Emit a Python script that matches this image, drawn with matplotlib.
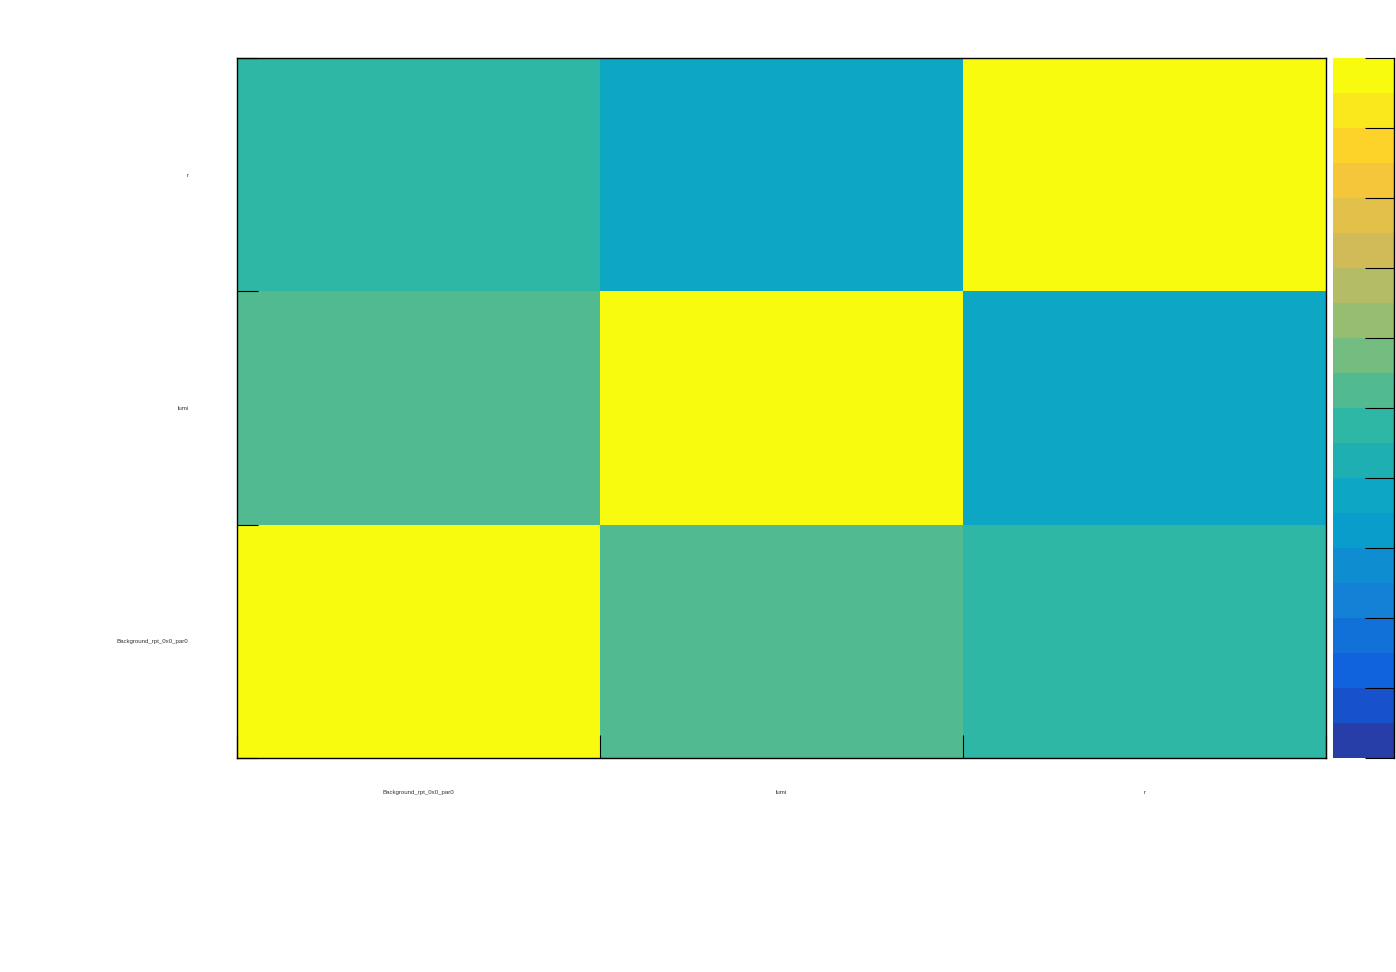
import matplotlib
matplotlib.use("Agg")
import matplotlib.pyplot as plt
import numpy as np
from matplotlib.colors import LinearSegmentedColormap, ListedColormap, BoundaryNorm

# parameter names (bottom to top on y, left to right on x)
params = ["Background_rpt_0x0_par0", "lumi", "r"]

# correlation matrix, rows/cols in the order of params
corr = np.array([
    [1.00, 0.05, -0.05],
    [0.05, 1.00, -0.25],
    [-0.05, -0.25, 1.00],
])

# ROOT kBird palette, 20 contour levels from -1 to 1
bird_stops = [0.0, 0.125, 0.25, 0.375, 0.5, 0.625, 0.75, 0.875, 1.0]
bird_r = [0.2082, 0.0592, 0.0780, 0.0232, 0.1802, 0.5301, 0.8186, 0.9956, 0.9764]
bird_g = [0.1664, 0.3599, 0.5041, 0.6419, 0.7178, 0.7492, 0.7328, 0.7862, 0.9832]
bird_b = [0.5293, 0.8684, 0.8385, 0.7914, 0.6425, 0.4662, 0.3499, 0.1968, 0.0539]
n_levels = 20

bird = LinearSegmentedColormap.from_list(
    "bird", list(zip(bird_stops, zip(bird_r, bird_g, bird_b))), N=255)
# same color pick as THistPainter for contour levels
level_colors = [bird(int((i + 0.99) * 255 / n_levels) / 254.0) for i in range(n_levels)]
cmap = ListedColormap(level_colors)
bounds = np.linspace(-1, 1, n_levels + 1)
norm = BoundaryNorm(bounds, cmap.N)

plt.rcParams["font.family"] = ["Liberation Sans", "DejaVu Sans"]

fig = plt.figure(figsize=(13.96, 9.72), dpi=100)
ax = fig.add_axes([237 / 1396, 214 / 972, 1089 / 1396, 700 / 972])
n = len(params)
edges = np.arange(n + 1)
im = ax.pcolormesh(edges, edges, corr, cmap=cmap, norm=norm)
ax.set_xlim(0, n)
ax.set_ylim(0, n)

for sp in ax.spines.values():
    sp.set_linewidth(1.0)

# ticks at bin edges, labels at bin centres
ax.set_xticks(edges)
ax.set_yticks(edges)
ax.tick_params(axis="x", which="major", direction="in", length=16.5, width=0.8, labelbottom=False)
ax.tick_params(axis="y", which="major", direction="in", length=15, width=0.8, labelleft=False)
centers = np.arange(n) + 0.5
ax.set_xticks(centers, params, minor=True)
ax.set_yticks(centers, params, minor=True)
ax.tick_params(axis="x", which="minor", length=0, pad=23, labelsize=4.4, labelcolor="#333333")
ax.tick_params(axis="y", which="minor", length=0, pad=35, labelsize=4.4, labelcolor="#333333")

# colour bar on the right, no labels
cax = fig.add_axes([1333 / 1396, 214 / 972, 61 / 1396, 700 / 972])
cb = fig.colorbar(im, cax=cax, boundaries=bounds, ticks=np.linspace(-1, 1, 11))
cb.minorticks_off()
cb.outline.set_visible(False)
cax.spines["right"].set_visible(True)
cax.spines["right"].set_linewidth(1.0)
cax.tick_params(axis="y", which="major", direction="in", length=21, width=0.8, labelright=False, right=True)
cax.tick_params(axis="y", which="minor", length=0)

fig.savefig("out.png", dpi=100)
